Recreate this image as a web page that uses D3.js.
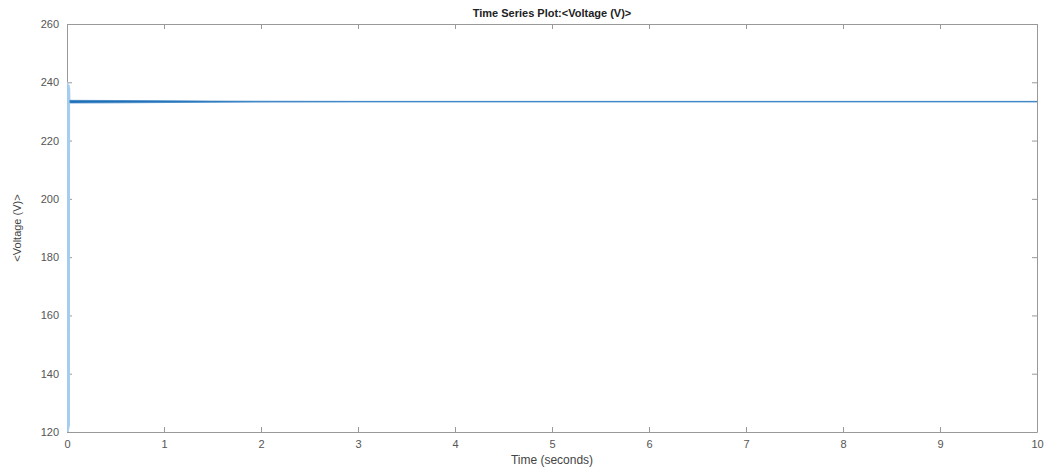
<!DOCTYPE html>
<html>
<head>
<meta charset="utf-8">
<script src="https://cdn.jsdelivr.net/npm/d3@7"></script>
<style>
  body { margin: 0; background: #fff; }
  svg { display: block; font-family: "Liberation Sans", Arial, sans-serif; }
  .tick text { fill: #555; font-size: 11px; }
</style>
</head>
<body>
<div id="chart"></div>
<script>
// values
var xTicks = [0, 1, 2, 3, 4, 5, 6, 7, 8, 9, 10];
var yTicks = [120, 140, 160, 180, 200, 220, 240, 260];

// start-up transient (seconds, volts)
var transientT = [0, 0.003, 0.006, 0.009, 0.012, 0.015, 0.018, 0.021, 0.024, 0.027, 0.030];
var transientV = [118, 240, 119, 240, 120, 239, 121, 239, 122, 238, 233.4];

// ripple envelope of the steady part
var envT  = [0.03, 0.5, 1.0, 1.5, 2.0, 3.0, 4.0, 5.0, 6.0, 7.0, 8.0, 9.0, 10.0];
var envHi = [233.8, 233.75, 233.65, 233.55, 233.5, 233.45, 233.45, 233.45, 233.45, 233.45, 233.45, 233.45, 233.45];
var envLo = [232.9, 232.95, 233.05, 233.15, 233.2, 233.25, 233.25, 233.25, 233.25, 233.25, 233.25, 233.25, 233.25];

var margin = {top: 24, right: 12, bottom: 38, left: 67},
    width = 1049 - margin.left - margin.right,
    height = 470 - margin.top - margin.bottom;

var svg = d3.select("#chart").append("svg")
    .attr("width", 1049)
    .attr("height", 470);

var g = svg.append("g")
    .attr("transform", "translate(" + margin.left + "," + margin.top + ")");

var x = d3.scaleLinear().domain([0, 10]).range([0, width]);
var y = d3.scaleLinear().domain([120, 260]).range([height, 0]);

// axes, ticks pointing inwards on all four sides
var axisColor = "#999";

function styleAxis(sel) {
    sel.select(".domain").attr("stroke", axisColor);
    sel.selectAll(".tick line").attr("stroke", axisColor);
}

var xb = g.append("g")
    .attr("transform", "translate(0," + height + ")")
    .call(d3.axisBottom(x).tickValues(xTicks).tickSizeInner(-5).tickSizeOuter(0).tickPadding(8));
styleAxis(xb);

var xt = g.append("g")
    .call(d3.axisTop(x).tickValues(xTicks).tickSizeInner(-5).tickSizeOuter(0).tickFormat(""));
styleAxis(xt);

var yl = g.append("g")
    .call(d3.axisLeft(y).tickValues(yTicks).tickSizeInner(-5).tickSizeOuter(0).tickPadding(8));
styleAxis(yl);

var yr = g.append("g")
    .attr("transform", "translate(" + width + ",0)")
    .call(d3.axisRight(y).tickValues(yTicks).tickSizeInner(-5).tickSizeOuter(0).tickFormat(""));
styleAxis(yr);

// data
g.append("clipPath").attr("id", "clip")
    .append("rect").attr("width", width).attr("height", height);

var plot = g.append("g").attr("clip-path", "url(#clip)");

var transient = transientT.map(function(t, i) { return [t, transientV[i]]; });
plot.append("path")
    .datum(transient)
    .attr("fill", "none")
    .attr("stroke", "#a6cdee")
    .attr("stroke-width", 1)
    .attr("d", d3.line().x(d => x(d[0])).y(d => y(d[1])));

var env = envT.map(function(t, i) { return {t: t, hi: envHi[i], lo: envLo[i]}; });
plot.append("path")
    .datum(env)
    .attr("fill", "#1f6fb5")
    .attr("stroke", "#3f86c6")
    .attr("stroke-width", 0.8)
    .attr("d", d3.area().x(d => x(d.t)).y0(d => y(d.lo)).y1(d => y(d.hi)));

// titles
svg.append("text")
    .attr("x", margin.left + width / 2)
    .attr("y", 17)
    .attr("text-anchor", "middle")
    .attr("font-size", 11)
    .attr("font-weight", "bold")
    .attr("fill", "#222")
    .text("Time Series Plot:<Voltage (V)>");

svg.append("text")
    .attr("x", margin.left + width / 2)
    .attr("y", 464)
    .attr("text-anchor", "middle")
    .attr("font-size", 12)
    .attr("fill", "#444")
    .text("Time (seconds)");

svg.append("text")
    .attr("transform", "translate(21," + (margin.top + height / 2) + ") rotate(-90)")
    .attr("text-anchor", "middle")
    .attr("font-size", 11)
    .attr("fill", "#444")
    .text("<Voltage (V)>");
</script>
</body>
</html>
